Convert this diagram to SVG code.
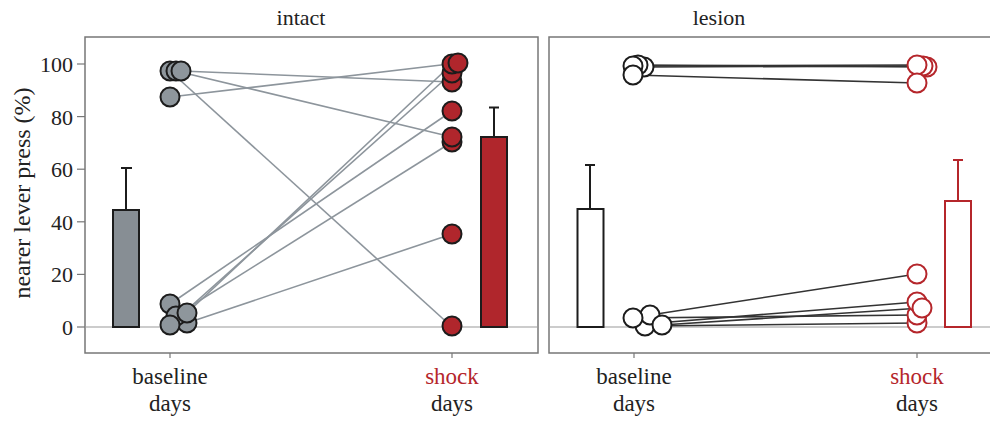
<svg xmlns="http://www.w3.org/2000/svg" width="990" height="423" viewBox="0 0 990 423">
<style>
text{font-family:"Liberation Serif","Times New Roman",serif;fill:#222}
.title{font-size:22px;text-anchor:middle}
.tick{font-size:22px;text-anchor:end}
.xl{font-size:23px;text-anchor:middle}
.red{fill:#b5262b}
.frame{fill:none;stroke:#777;stroke-width:1.5}
.zero{stroke:#999;stroke-width:1.2}
.axt{stroke:#777;stroke-width:1.2}
.gl{stroke:#8d959c;stroke-width:1.6;fill:none}
.kl{stroke:#333;stroke-width:1.6;fill:none}
.gc{fill:#8e969c;stroke:#1c1c1c;stroke-width:2}
.rc{fill:#b0262c;stroke:#1c1c1c;stroke-width:2}
.wc{fill:#fff;stroke:#1c1c1c;stroke-width:2}
.oc{fill:#fff;stroke:#b5262b;stroke-width:2}
.err{stroke:#1c1c1c;stroke-width:2;fill:none}
.rerr{stroke:#b5262b;stroke-width:2;fill:none}
</style>
<rect width="990" height="423" fill="#fff"/>

<g id="titles">
<text class="title" x="301" y="25">intact</text>
<text class="title" x="719" y="25">lesion</text>
</g>

<g id="y-axis">
<text transform="translate(30,193) rotate(-90)" style="font-size:24px;text-anchor:middle">nearer lever press (%)</text>
<g class="axt">
<line x1="77" y1="64" x2="85" y2="64"/><line x1="77" y1="116.6" x2="85" y2="116.6"/>
<line x1="77" y1="169.2" x2="85" y2="169.2"/><line x1="77" y1="221.8" x2="85" y2="221.8"/>
<line x1="77" y1="274.4" x2="85" y2="274.4"/><line x1="77" y1="327" x2="85" y2="327"/>
</g>
<text class="tick" x="73" y="72">100</text>
<text class="tick" x="73" y="124.6">80</text>
<text class="tick" x="73" y="177.2">60</text>
<text class="tick" x="73" y="229.8">40</text>
<text class="tick" x="73" y="282.4">20</text>
<text class="tick" x="73" y="335">0</text>
</g>

<g id="frames">
<rect class="frame" x="85" y="37" width="453" height="316"/>
<path class="frame" d="M990,37 H549 V353 H990"/>
<line class="zero" x1="85" y1="327" x2="538" y2="327"/>
<line class="zero" x1="549" y1="327" x2="990" y2="327"/>
<g class="axt">
<line x1="170" y1="353" x2="170" y2="358"/><line x1="452" y1="353" x2="452" y2="358"/>
<line x1="634" y1="353" x2="634" y2="358"/><line x1="917" y1="353" x2="917" y2="358"/>
</g>
</g>

<g id="x-labels">
<text class="xl" x="170" y="384">baseline</text>
<text class="xl" x="170" y="411">days</text>
<text class="xl red" x="452" y="384">shock</text>
<text class="xl" x="452" y="411">days</text>
<text class="xl" x="634" y="384">baseline</text>
<text class="xl" x="634" y="411">days</text>
<text class="xl red" x="917" y="384">shock</text>
<text class="xl" x="917" y="411">days</text>
</g>

<g id="bars">
<line class="err" x1="126" y1="210" x2="126" y2="168"/><line class="err" x1="121" y1="168" x2="132" y2="168"/>
<rect x="113" y="210" width="26" height="117" fill="#878e94" stroke="#1c1c1c" stroke-width="2"/>
<line class="err" x1="494" y1="137" x2="494" y2="107.5"/><line class="err" x1="489" y1="107.5" x2="499" y2="107.5"/>
<rect x="481" y="137" width="26" height="190" fill="#b0262c" stroke="#1c1c1c" stroke-width="2"/>
<line class="err" x1="590" y1="209" x2="590" y2="165"/><line class="err" x1="585" y1="165" x2="595" y2="165"/>
<rect x="577.5" y="209" width="26" height="118" fill="#fff" stroke="#1c1c1c" stroke-width="2"/>
<line class="rerr" x1="958" y1="201" x2="958" y2="160"/><line class="rerr" x1="953" y1="160" x2="963" y2="160"/>
<rect x="945" y="201" width="26" height="126" fill="#fff" stroke="#b5262b" stroke-width="2"/>
</g>

<g id="connectors">
<g class="gl">
<line x1="170" y1="71" x2="452" y2="327"/>
<line x1="176" y1="71" x2="452" y2="137"/>
<line x1="181" y1="71" x2="452" y2="82"/>
<line x1="170" y1="97" x2="458" y2="63"/>
<line x1="170" y1="304" x2="452" y2="111"/>
<line x1="175" y1="316" x2="452" y2="142"/>
<line x1="187" y1="313" x2="452" y2="64"/>
<line x1="187" y1="323" x2="452" y2="234"/>
<line x1="170" y1="325" x2="452" y2="73"/>
</g>
<g class="kl">
<line x1="633" y1="66" x2="917" y2="65"/>
<line x1="638" y1="65" x2="927" y2="67"/>
<line x1="644" y1="67" x2="923" y2="66"/>
<line x1="633" y1="75" x2="917" y2="83"/>
<line x1="650" y1="315" x2="917" y2="274"/>
<line x1="645" y1="324" x2="917" y2="302"/>
<line x1="662" y1="325" x2="922" y2="308"/>
<line x1="633" y1="318" x2="917" y2="315"/>
<line x1="645" y1="326" x2="917" y2="323"/>
</g>
</g>

<g id="intact-baseline">
<circle class="gc" cx="170" cy="71" r="9.5"/>
<circle class="gc" cx="176" cy="71" r="9.5"/>
<circle class="gc" cx="181" cy="71" r="9.5"/>
<circle class="gc" cx="170" cy="97" r="9.5"/>
<circle class="gc" cx="170" cy="304" r="9.5"/>
<circle class="gc" cx="187" cy="323" r="9.5"/>
<circle class="gc" cx="176" cy="316" r="9.5"/>
<circle class="gc" cx="187" cy="313" r="9.5"/>
<circle class="gc" cx="170" cy="325" r="9.5"/>
</g>

<g id="intact-shock">
<circle class="rc" cx="452" cy="82" r="9.5"/>
<circle class="rc" cx="452" cy="73" r="9.5"/>
<circle class="rc" cx="452" cy="64" r="9.5"/>
<circle class="rc" cx="458" cy="63" r="9.5"/>
<circle class="rc" cx="452" cy="111" r="9.5"/>
<circle class="rc" cx="452" cy="142" r="9.5"/>
<circle class="rc" cx="452" cy="137" r="9.5"/>
<circle class="rc" cx="452" cy="234" r="9.5"/>
<circle class="rc" cx="452" cy="326" r="9.5"/>
</g>

<g id="lesion-baseline">
<circle class="wc" cx="644" cy="67" r="9.5"/>
<circle class="wc" cx="638" cy="65" r="9.5"/>
<circle class="wc" cx="633" cy="66" r="9.5"/>
<circle class="wc" cx="633" cy="75" r="9.5"/>
<circle class="wc" cx="645" cy="326" r="9.5"/>
<circle class="wc" cx="650" cy="315" r="9.5"/>
<circle class="wc" cx="633" cy="318" r="9.5"/>
<circle class="wc" cx="662" cy="325" r="9.5"/>
</g>

<g id="lesion-shock">
<circle class="oc" cx="927" cy="67" r="9.5"/>
<circle class="oc" cx="923" cy="66" r="9.5"/>
<circle class="oc" cx="917" cy="65" r="9.5"/>
<circle class="oc" cx="917" cy="83" r="9.5"/>
<circle class="oc" cx="917" cy="274" r="9.5"/>
<circle class="oc" cx="917" cy="323" r="9.5"/>
<circle class="oc" cx="917" cy="315" r="9.5"/>
<circle class="oc" cx="917" cy="302" r="9.5"/>
<circle class="oc" cx="922" cy="308" r="9.5"/>
</g>
</svg>
